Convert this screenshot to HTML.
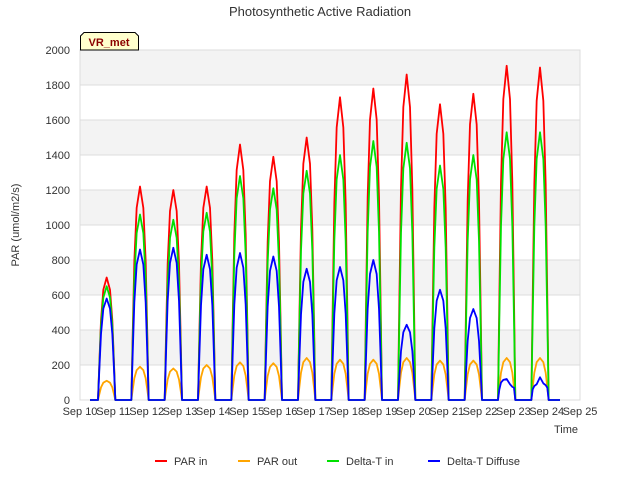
<!DOCTYPE html>
<html><head><meta charset="utf-8"><style>body{margin:0;background:#fff;font-family:"Liberation Sans",sans-serif}</style></head>
<body>
<svg id="c" width="640" height="480" xmlns="http://www.w3.org/2000/svg" font-family="Liberation Sans, sans-serif"></svg>
<script>
const days=[10,11,12,13,14,15,16,17,18,19,20,21,22,23];
const offsets=[0.54,0.58,0.63,0.7,0.8,0.9,0.97,1.02,1.06];
const parIn=[[0,210,455,630,700,630,455,210,0],[0,366,793,1098,1220,1098,793,366,0],[0,360,780,1080,1200,1080,780,360,0],[0,366,793,1098,1220,1098,793,366,0],[0,438,949,1314,1460,1314,949,438,0],[0,417,904,1251,1390,1251,904,417,0],[0,450,975,1350,1500,1350,975,450,0],[0,519,1125,1557,1730,1557,1125,519,0],[0,534,1157,1602,1780,1602,1157,534,0],[0,558,1209,1674,1860,1674,1209,558,0],[0,507,1099,1521,1690,1521,1099,507,0],[0,525,1138,1575,1750,1575,1138,525,0],[0,573,1242,1719,1910,1719,1242,573,0],[0,570,1235,1710,1900,1710,1235,570,0]];
const parOut=[[0,33,72,99,110,99,72,33,0],[0,57,124,171,190,171,124,57,0],[0,54,117,162,180,162,117,54,0],[0,60,130,180,200,180,130,60,0],[0,65,140,194,215,194,140,65,0],[0,63,137,189,210,189,137,63,0],[0,72,156,216,240,216,156,72,0],[0,69,150,207,230,207,150,69,0],[0,69,150,207,230,207,150,69,0],[0,72,156,216,240,216,156,72,0],[0,68,146,203,225,203,146,68,0],[0,68,146,203,225,203,146,68,0],[0,72,156,216,240,216,156,72,0],[0,72,156,216,240,216,156,72,0]];
const dtIn=[[0,195,423,585,650,585,423,195,0],[0,318,689,954,1060,954,689,318,0],[0,309,670,927,1030,927,670,309,0],[0,321,696,963,1070,963,696,321,0],[0,384,832,1152,1280,1152,832,384,0],[0,363,787,1089,1210,1089,787,363,0],[0,393,852,1179,1310,1179,852,393,0],[0,420,910,1260,1400,1260,910,420,0],[0,444,962,1332,1480,1332,962,444,0],[0,441,956,1323,1470,1323,956,441,0],[0,402,871,1206,1340,1206,871,402,0],[0,420,910,1260,1400,1260,910,420,0],[0,459,995,1377,1530,1377,995,459,0],[0,459,995,1377,1530,1377,995,459,0]];
const diffuse=[[0,174,377,522,580,522,377,174,0],[0,258,559,774,860,774,559,258,0],[0,261,566,783,870,783,566,261,0],[0,249,540,747,830,747,540,249,0],[0,252,546,756,840,756,546,252,0],[0,246,533,738,820,738,533,246,0],[0,225,488,675,750,675,488,225,0],[0,228,494,684,760,684,494,228,0],[0,240,520,720,800,720,520,240,0],[0,129,280,387,430,387,280,129,0],[0,189,410,567,630,567,410,189,0],[0,156,338,468,520,468,338,156,0],[0,60,100,115,120,90,75,70,0],[0,60,80,90,130,95,85,70,0]];
const yTicks=[0,200,400,600,800,1000,1200,1400,1600,1800,2000];
const xTicks=["Sep 10","Sep 11","Sep 12","Sep 13","Sep 14","Sep 15","Sep 16","Sep 17","Sep 18","Sep 19","Sep 20","Sep 21","Sep 22","Sep 23","Sep 24","Sep 25"];
const L=80,R=580,T=50,B=400;
const sx=d=>L+(d-10)*(R-L)/15, sy=v=>B-v*(B-T)/2000;
const svg=document.getElementById('c');const NS='http://www.w3.org/2000/svg';
function mk(t,a,p){const e=document.createElementNS(NS,t);for(const k in a)e.setAttribute(k,a[k]);(p||svg).appendChild(e);return e;}
let e;
e=mk('rect',{x:L,y:T,width:R-L,height:B-T,fill:'#fff'});


for(let i=0;i<yTicks.length-1;i+=2){
 e=mk('rect',{x:L,y:sy(yTicks[i+2]||2000),width:R-L,height:sy(yTicks[i+1])-sy(yTicks[i+2]||2000),fill:'#f3f3f3'});
 
 
}
yTicks.forEach(v=>{
 e=mk('line',{x1:L,x2:R,y1:sy(v),y2:sy(v),stroke:'#dcdcdc'});
 
 
 e=mk('text',{x:L-10,y:sy(v)+4,'text-anchor':'end','font-size':11,fill:'#333'});e.textContent=v;
 
 
});
e=mk('rect',{x:L,y:T,width:R-L,height:B-T,fill:'none',stroke:'#dcdcdc'});


xTicks.forEach((t,i)=>{
 const x=sx(10+i);
 e=mk('text',{x:x,y:B+15,'text-anchor':'middle','font-size':11,fill:'#333'});e.textContent=t;
 
 
});
function series(arr,color,name){
 let pts=[[sx(10.3),sy(0)]];
 arr.forEach((vals,i)=>offsets.forEach((o,j)=>pts.push([sx(days[i]+o),sy(vals[j])])));
 pts.push([sx(24.4),sy(0)]);
 e=mk('polyline',{points:pts.map(p=>p.join(',')).join(' '),fill:'none',stroke:color,'stroke-width':1.8,'stroke-linejoin':'round'});
 
 
}
series(parIn,'#ff0000','par-in-line');
series(parOut,'#ffa500','par-out-line');
series(dtIn,'#00e000','delta-t-in-line');
series(diffuse,'#0000ff','delta-t-diffuse-line');
e=mk('text',{x:320,y:16,'text-anchor':'middle','font-size':13,fill:'#333'});e.textContent='Photosynthetic Active Radiation';


e=mk('text',{x:19,y:225,'text-anchor':'middle','font-size':11,fill:'#333',transform:'rotate(-90 19 225)'});e.textContent='PAR (umol/m2/s)';


e=mk('text',{x:578,y:433,'text-anchor':'end','font-size':11,fill:'#333'});e.textContent='Time';


e=mk('path',{d:'M80.5,50 L80.5,36 L84,32.5 L135,32.5 L138.5,36 L138.5,50 Z',fill:'#ffffcc',stroke:'#000'});


e=mk('text',{x:109,y:46,'text-anchor':'middle','font-size':11,'font-weight':'bold',fill:'#8b0000'});e.textContent='VR_met';


const leg=[['PAR in','#ff0000',155],['PAR out','#ffa500',238],['Delta-T in','#00e000',327],['Delta-T Diffuse','#0000ff',428]];
leg.forEach(([t,c,x])=>{
 const g=mk('g',{});
 
 
 mk('line',{x1:x,x2:x+12,y1:461,y2:461,stroke:c,'stroke-width':2},g);
 const tx=mk('text',{x:x+19,y:465,'font-size':11,fill:'#333'},g);tx.textContent=t;
});
</script>
</body></html>
